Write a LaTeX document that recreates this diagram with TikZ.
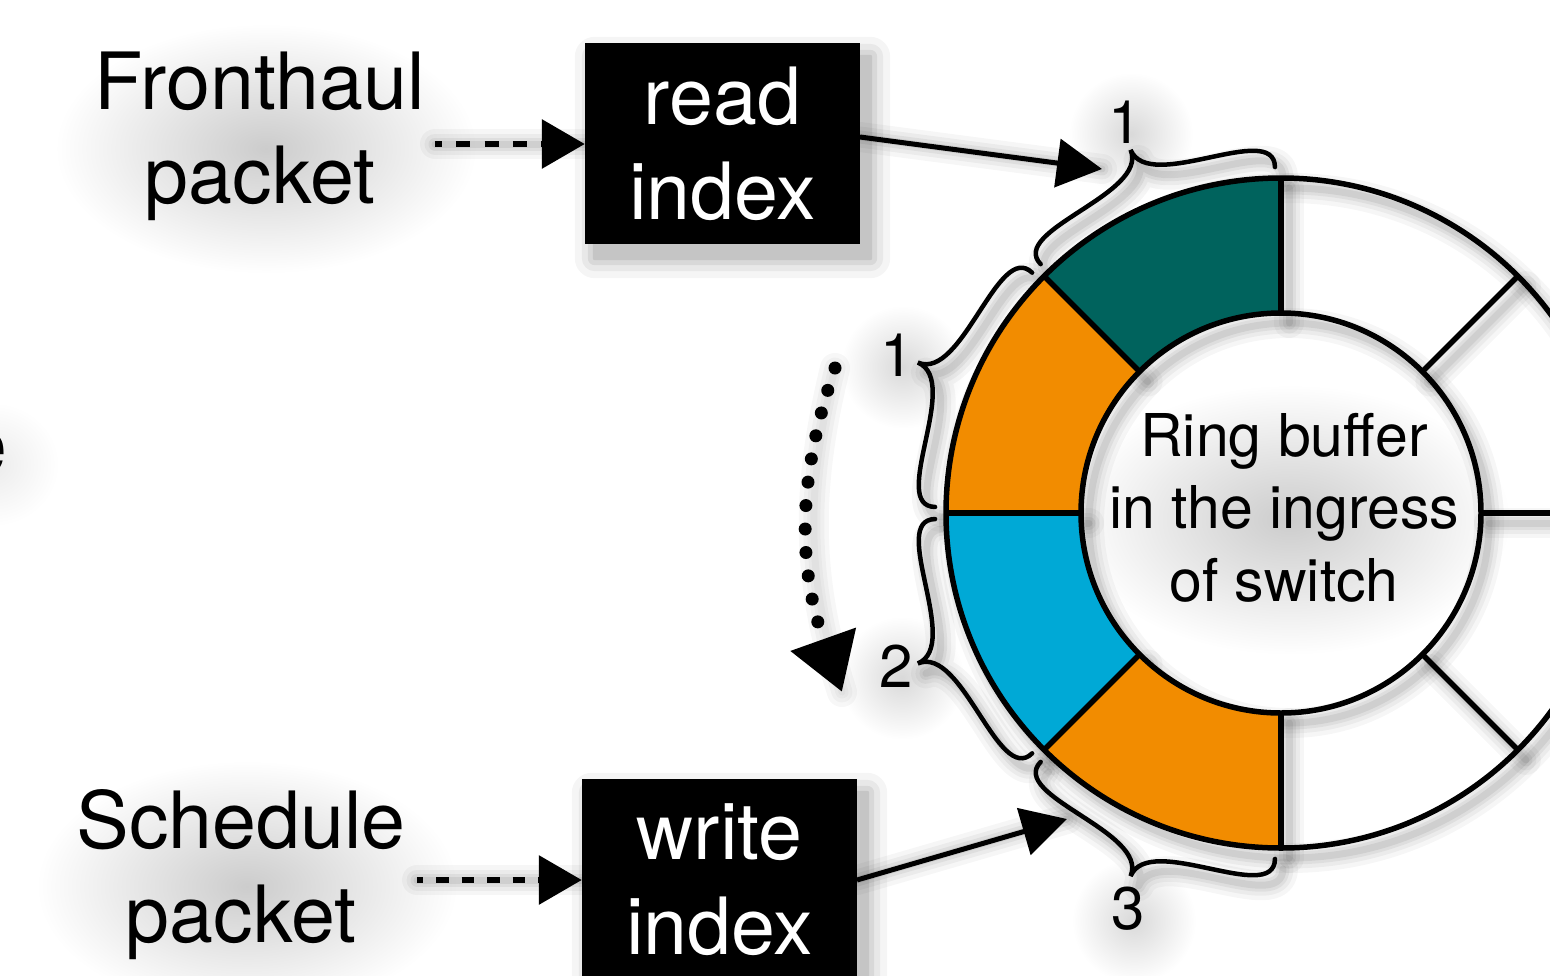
\documentclass[tikz,border=0pt]{standalone}
\usepackage{fontspec}
\setmainfont{TeX Gyre Heros}
\usetikzlibrary{arrows.meta,calc,fadings}

\definecolor{segteal}{RGB}{0,99,93}
\definecolor{segorange}{RGB}{242,140,0}
\definecolor{segblue}{RGB}{0,169,214}

\pgfdeclarelayer{shadow}
\pgfsetlayers{shadow,main}

\tikzfading[name=softblob, inner color=transparent!0, outer color=transparent!100]

% soft drop shadow under a stroked path
\newcommand\lineshadow[2][]{%
  \foreach \w/\o in {30/0.035,21/0.045,13/0.055,7/0.065}{%
    \draw[line width=\w pt, black, opacity=\o, line cap=round, line join=round,
          shift={(8,10)}, #1] #2;}}

% soft drop shadow under a rectangular node
\newcommand\boxshadow[1]{%
  \foreach \e/\o in {20/0.04,13/0.055,7/0.07,2/0.09}{%
    \fill[black, opacity=\o, rounded corners=\e pt]
      ($(#1.north west)+(10-\e,14-\e)$) rectangle ($(#1.south east)+(10+\e,14+\e)$);}}

% faint cloud under a block of text
\newcommand\textshadow[2][0.2]{%
  \path let \p1=(#2.north west), \p2=(#2.south east) in
    [fill=black, opacity=#1, path fading=softblob]
    ($(#2.center)+(6,12)$) ellipse[x radius={(\x2-\x1)/2+45pt}, y radius={(\y1-\y2)/2+40pt}];}

% curly brace following the ring, from angle #1 to angle #2
\newcommand\bracepath[2]{%
  (#1:346) .. controls (#1:393) and ({(#1+#2)/2}:345) .. ({(#1+#2)/2}:393)
  .. controls ({(#1+#2)/2}:345) and (#2:393) .. (#2:346)}

\tikzset{
  bigtext/.style={inner sep=0pt, align=center, font=\fontsize{79}{94}\selectfont},
  ringtext/.style={inner sep=0pt, align=center, font=\fontsize{59}{72.5}\selectfont},
  numtext/.style={inner sep=0pt, font=\fontsize{60}{72}\selectfont},
  indexbox/.style={fill=black, text=white, inner sep=0pt, minimum width=275pt,
    minimum height=201pt, align=center, font=\fontsize{79}{95}\selectfont},
  ringline/.style={line width=5.5pt, line join=round},
  bracestyle/.style={line width=4.5pt, line cap=round},
  solidarrow/.style={line width=5pt, -{Triangle[length=45pt,width=48pt]}},
  dasharrow/.style={line width=6.5pt, -{Triangle[length=43pt,width=48pt]}},
  dotarrow/.style={line width=13pt, line cap=round, dash pattern=on 0pt off 23.5pt,
    -{Triangle[length=56pt,width=66pt]}},
}

\begin{document}
\begin{tikzpicture}[x=1pt,y=-1pt]
\useasboundingbox (0,0) rectangle (1550,975);

% ---- nodes -------------------------------------------------------------
\node[bigtext, anchor=north] (fh) at (260,52) {Fronthaul\\packet};
\node[bigtext, anchor=north] (sp) at (241,789) {Schedule\\packet};
\node[bigtext, anchor=base east] (cut) at (8,473) {e};
\node[indexbox] (ri) at (722.5,143.5) {read\\index};
\node[indexbox] (wi) at (719.5,879.5) {write\\index};
\node[ringtext, anchor=north] (rt) at (1284,413) {Ring buffer\\in the ingress\\of switch};
\node[numtext] (n1) at (1125,122) {1};
\node[numtext] (n2) at (897,355) {1};
\node[numtext] (n3) at (896,666) {2};
\node[numtext] (n4) at (1128,909) {3};

% connector end points
\coordinate (ctr) at (1281,513);
\coordinate (fhs) at (435,144);
\coordinate (sps) at (417,880);
\coordinate (rie) at (860,137);
\coordinate (wie) at (857,880);
\coordinate (rtip) at (1102,169);
\coordinate (wtip) at (1067,819);
\coordinate (dstart) at (835,368);
\coordinate (dend) at (842,692);

% ---- shadows -----------------------------------------------------------
\begin{pgfonlayer}{shadow}
\boxshadow{ri}
\boxshadow{wi}
\textshadow{fh}
\textshadow{sp}
\textshadow{rt}
\textshadow[0.08]{cut}
\foreach \lbl in {n1,n2,n3,n4}{\textshadow[0.15]{\lbl}}
\lineshadow{(rie) -- (rtip)}
\lineshadow{(wie) -- (wtip)}
\lineshadow{(fhs) -- (ri.west |- fhs)}
\lineshadow{(sps) -- (wi.west |- sps)}
\lineshadow[opacity=0.03]{(dstart) .. controls (800,470) and (795,560) .. (dend)}
\begin{scope}[shift={(ctr)}]
  \lineshadow{(0,0) circle[radius=335]}
  \lineshadow{(0,0) circle[radius=200]}
  \foreach \a in {0,45,...,315}{\lineshadow{(\a:200) -- (\a:335)}}
  \foreach \a/\b in {269/226,224/181,179/136,134/91}{\lineshadow{\bracepath{\a}{\b}}}
\end{scope}
\end{pgfonlayer}

% ---- ring buffer -------------------------------------------------------
\begin{scope}[shift={(ctr)}]
  \foreach \a/\c in {225/segteal,180/segorange,135/segblue,90/segorange}{%
    \fill[\c] (\a:200) arc[start angle=\a, delta angle=45, radius=200]
      -- ({\a+45}:335) arc[start angle=\a+45, delta angle=-45, radius=335] -- cycle;}
  \draw[ringline] (0,0) circle[radius=335];
  \draw[ringline] (0,0) circle[radius=200];
  \foreach \a in {0,45,...,315}{\draw[ringline] (\a:200) -- (\a:335);}
  \foreach \a/\b in {269/226,224/181,179/136,134/91}{\draw[bracestyle] \bracepath{\a}{\b};}
\end{scope}

% ---- connectors --------------------------------------------------------
\draw[dasharrow, dash pattern=on 14pt off 14.3pt, dash phase=7pt] (fhs) -- (ri.west |- fhs);
\draw[dasharrow, dash pattern=on 12.7pt off 12.8pt, dash phase=6.5pt] (sps) -- (wi.west |- sps);
\draw[solidarrow] (rie) -- (rtip);
\draw[solidarrow] (wie) -- (wtip);
\draw[dotarrow] (dstart) .. controls (800,470) and (795,560) .. (dend);
\end{tikzpicture}
\end{document}
